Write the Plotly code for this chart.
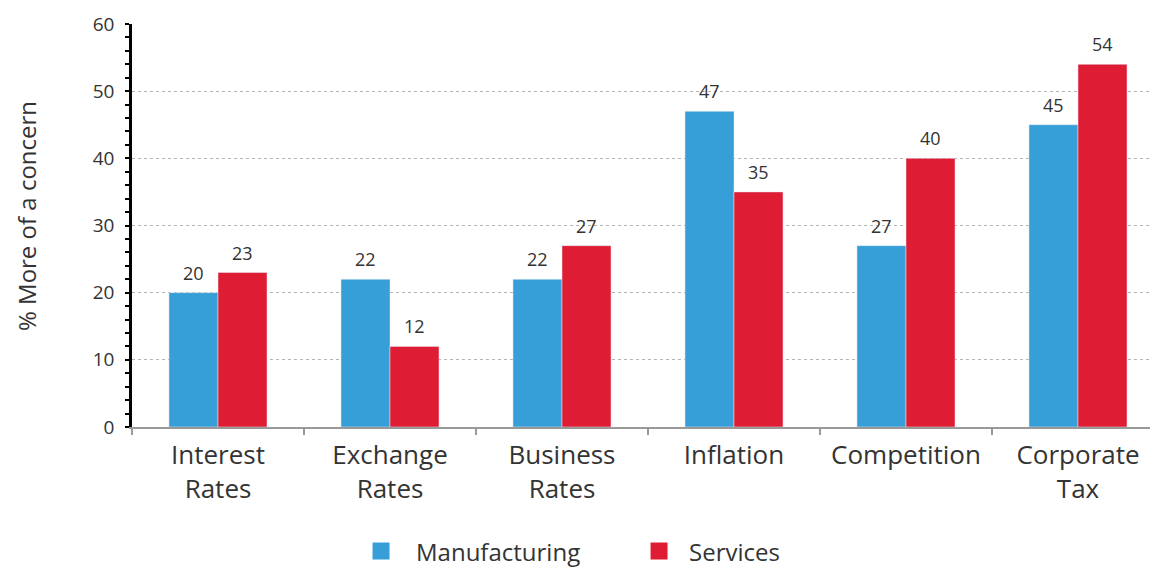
import plotly.graph_objects as go

categories = ["Interest<br>Rates", "Exchange<br>Rates", "Business<br>Rates", "Inflation", "Competition", "Corporate<br>Tax"]
manufacturing = [20, 22, 22, 47, 27, 45]
services = [23, 12, 27, 35, 40, 54]
y_ticks = [0, 10, 20, 30, 40, 50, 60]
series_names = ["Manufacturing", "Services"]

BLUE = "#379FD8"
RED = "#DE1C34"
TXT = "#333333"
FONT = "Open Sans, Lato, sans-serif"

fig = go.Figure()
fig.add_trace(go.Bar(name=series_names[0], x=categories, y=manufacturing, marker_color=BLUE, showlegend=False))
fig.add_trace(go.Bar(name=series_names[1], x=categories, y=services, marker_color=RED, showlegend=False))

gap = 0.43
bw = (1 - gap) / 2
for i, (m, s) in enumerate(zip(manufacturing, services)):
    fig.add_annotation(x=i - bw / 2, y=m, text=str(m), showarrow=False, yshift=20,
                       font=dict(size=18, color=TXT, family=FONT))
    fig.add_annotation(x=i + bw / 2, y=s, text=str(s), showarrow=False, yshift=20,
                       font=dict(size=18, color=TXT, family=FONT))

# y-axis title
fig.add_annotation(xref="paper", yref="paper", x=-0.1017, y=0.5236, xanchor="center", yanchor="middle",
                   text="% More of a concern", textangle=-90, showarrow=False,
                   font=dict(size=24, color=TXT, family=FONT))

# legend (drawn manually so it does not push the margins)
legend_square_x = [0.2413, 0.5107]
legend_text_x = [0.2733, 0.5378]
legend_y = -0.3077
for name, col, sx, tx in zip(series_names, [BLUE, RED], legend_square_x, legend_text_x):
    fig.add_shape(type="rect", xref="paper", yref="paper", xsizemode="pixel", ysizemode="pixel",
                  xanchor=sx, yanchor=legend_y, x0=-8.5, x1=8.5, y0=-8.5, y1=8.5,
                  fillcolor=col, line=dict(width=0))
    fig.add_annotation(xref="paper", yref="paper", x=tx, y=legend_y, xanchor="left", yanchor="middle",
                       text=name, showarrow=False, font=dict(size=24, color=TXT, family=FONT))

fig.update_layout(
    width=1158, height=568,
    margin=dict(l=124, r=2, t=16, b=149),
    plot_bgcolor="white", paper_bgcolor="white",
    barmode="group", bargap=gap, bargroupgap=0,
    font=dict(family=FONT, color=TXT),
    showlegend=False,
    xaxis=dict(
        automargin=False,
        showline=True, linecolor="#999999", linewidth=1.5,
        ticks="outside", tickson="boundaries", ticklen=6, tickcolor="#999999", tickwidth=1.5,
        tickfont=dict(size=26, color=TXT, family=FONT),
        ticklabelstandoff=4,
        range=[-0.5, 5.5],
    ),
    yaxis=dict(
        automargin=False,
        range=[0, 60], tickvals=y_ticks,
        showline=True, linecolor="black", linewidth=2.5,
        ticks="outside", ticklen=4, tickcolor="black", tickwidth=2,
        tickfont=dict(size=19, color=TXT, family=FONT),
        ticklabelstandoff=7,
        showgrid=True, gridcolor="#b5b5b5", griddash="dot", gridwidth=1,
        zeroline=False,
        minor=dict(dtick=2, ticks="outside", ticklen=4, tickcolor="black", tickwidth=2, showgrid=False),
    ),
)

fig.write_html("out.html")
